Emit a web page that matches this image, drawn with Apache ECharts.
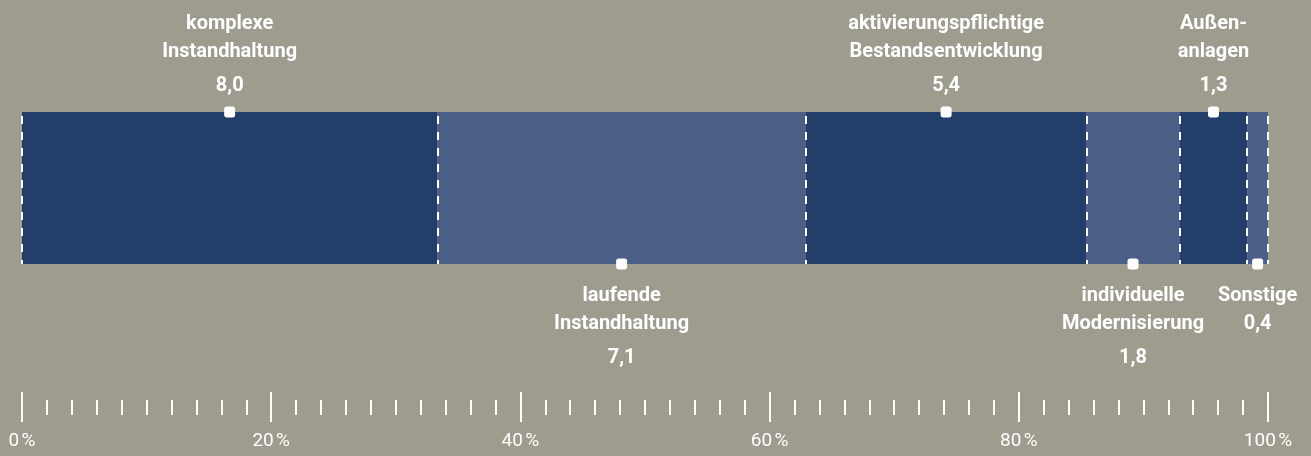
<!DOCTYPE html>
<html>
<head>
<meta charset="utf-8">
<script src="https://cdn.jsdelivr.net/npm/echarts@6/dist/echarts.min.js"></script>
<style>
html,body{margin:0;padding:0;background:#9e9c8e;}
#c{width:1311px;height:456px;}
</style>
</head>
<body>
<div id="c"></div>
<script>
const names = ['komplexe\nInstandhaltung', 'laufende\nInstandhaltung', 'aktivierungspflichtige\nBestandsentwicklung', 'individuelle\nModernisierung', 'Außen-\nanlagen', 'Sonstige'];
const values = [8.0, 7.1, 5.4, 1.8, 1.3, 0.4];
const colors = ['#233f69', '#4b5f87', '#233f69', '#4b5f87', '#233f69', '#4b5f87'];
const labelSide = ['top', 'bottom', 'top', 'bottom', 'top', 'bottom'];
const tickLabels = [0, 20, 40, 60, 80, 100];

const total = values.reduce((a, b) => a + b, 0);
const shares = values.map(v => v / total * 100);
const bounds = [0];
shares.forEach(s => bounds.push(bounds[bounds.length - 1] + s));
bounds[bounds.length - 1] = 100;
const centers = shares.map((s, i) => bounds[i] + s / 2);

const fmt = v => v.toFixed(1).replace('.', ',');
const FS = 20;

const barSeries = shares.map((s, i) => ({
  type: 'bar',
  stack: 'total',
  xAxisIndex: 0,
  yAxisIndex: 0,
  barWidth: 152,
  data: [s],
  itemStyle: { color: colors[i] },
  silent: true,
  markLine: i === 0 ? {
    silent: true,
    symbol: 'none',
    label: { show: false },
    lineStyle: { color: '#ffffff', type: [8, 8], width: 2, dashOffset: 4 },
    data: bounds.map(b => ({ xAxis: b }))
  } : undefined,
  z: 2
}));

const scatterData = centers.map((c, i) => {
  const top = labelSide[i] === 'top';
  return {
    value: [c, top ? 1 : 0],
    label: {
      position: labelSide[i],
      distance: top ? 0.5 : 12
    }
  };
});

const richStyle = lh => ({ color: '#ffffff', fontFamily: 'Roboto', fontWeight: 'bold', fontSize: FS, lineHeight: lh, align: 'center' });

const option = {
  backgroundColor: '#9e9c8e',
  animation: false,
  grid: [
    { left: 22, right: 43, top: 112, height: 152 },
    { left: 22, right: 43, top: 300, height: 92 },
    { left: 22, right: 43, top: 300, height: 100 }
  ],
  xAxis: [
    { type: 'value', gridIndex: 0, min: 0, max: 100, show: false },
    {
      type: 'value', gridIndex: 1, min: 0, max: 100, interval: 20, position: 'bottom',
      axisLine: { show: false },
      axisTick: { show: true, length: 30, lineStyle: { color: '#ffffff', width: 2 } },
      splitLine: { show: false },
      axisLabel: {
        show: true, color: '#ffffff', fontFamily: 'Roboto', fontSize: 19, margin: 40,
        formatter: v => tickLabels.includes(v) ? v + '\u202F%' : ''
      }
    },
    {
      type: 'value', gridIndex: 2, min: 0, max: 100, interval: 2, position: 'bottom',
      axisLine: { show: false },
      axisTick: { show: true, length: 15, lineStyle: { color: '#ffffff', width: 2 } },
      splitLine: { show: false },
      axisLabel: { show: false }
    }
  ],
  yAxis: [
    { type: 'category', gridIndex: 0, data: ['Kosten'], show: false },
    { type: 'value', gridIndex: 0, min: 0, max: 1, show: false },
    { type: 'value', gridIndex: 1, show: false },
    { type: 'value', gridIndex: 2, show: false }
  ],
  series: barSeries.concat([{
    type: 'scatter',
    xAxisIndex: 0,
    yAxisIndex: 1,
    symbol: 'roundRect',
    symbolSize: 11,
    itemStyle: { color: '#ffffff', opacity: 1 },
    z: 5,
    silent: true,
    data: scatterData,
    label: {
      show: true,
      color: '#ffffff',
      fontFamily: 'Roboto',
      fontWeight: 'bold',
      fontSize: FS,
      align: 'center',
      formatter: p => {
        const i = p.dataIndex;
        const lines = names[i].split('\n');
        const nm = lines.map(l => '{n|' + l + '}').join('\n');
        const vs = lines.length > 1 ? 'v' : 'w';
        return nm + '\n{' + vs + '|' + fmt(values[i]) + '}';
      },
      rich: { n: richStyle(28), v: richStyle(40), w: richStyle(28) }
    }
  }])
};

const chart = echarts.init(document.getElementById('c'), null, { renderer: 'canvas' });
chart.setOption(option);
</script>
</body>
</html>
